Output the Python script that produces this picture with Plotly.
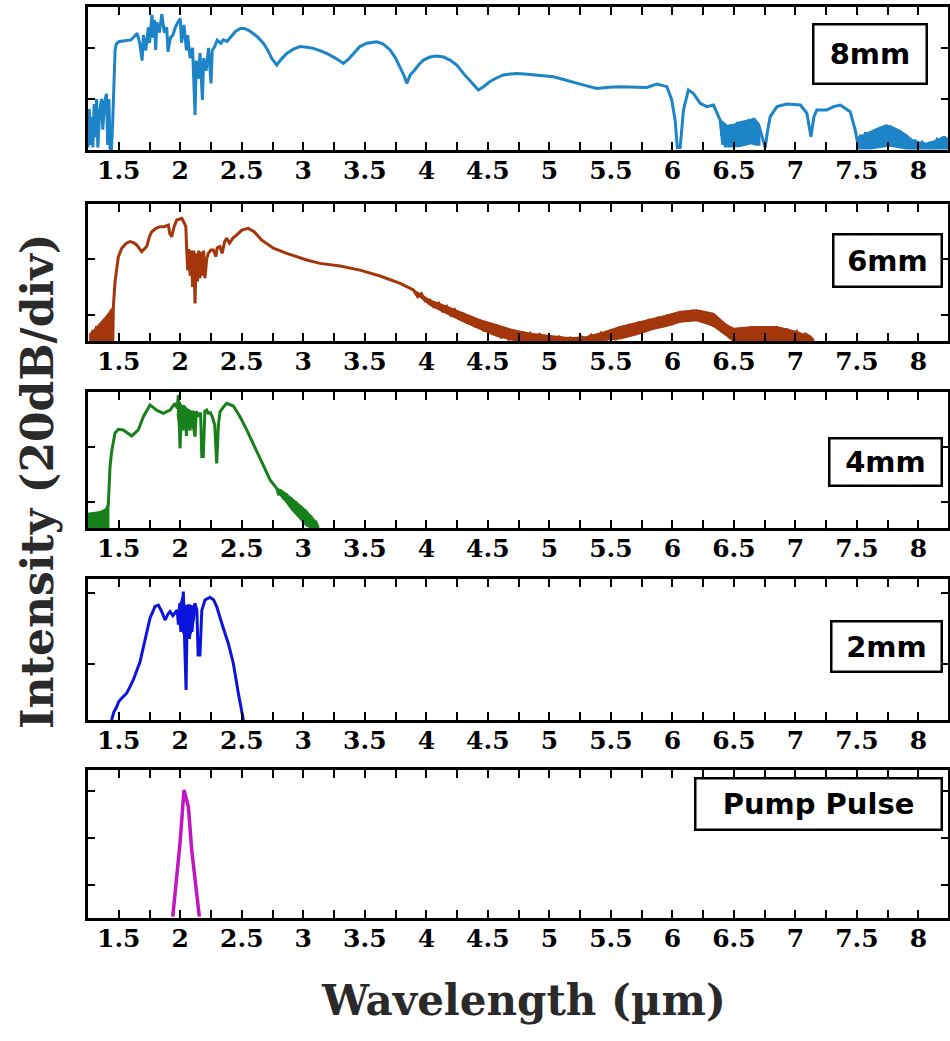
import plotly.graph_objects as go

# ---------------- data (wavelength in um, intensity in dB, 20 dB/div) ----------------
wl_8mm = [1.25, 1.26, 1.27, 1.28, 1.29, 1.30, 1.31, 1.32, 1.33, 1.345, 1.36, 1.37, 1.385, 1.40, 1.41, 1.42, 1.43, 1.44, 1.45, 1.46, 1.47, 1.48, 1.50, 1.55, 1.60, 1.65,
          1.67, 1.69, 1.70, 1.72, 1.74, 1.75, 1.77, 1.78, 1.79, 1.80, 1.81, 1.83, 1.85, 1.87, 1.89, 1.90, 1.92, 1.94, 1.96, 1.98, 2.00, 2.01, 2.03, 2.05, 2.06, 2.08, 2.10,
          2.12, 2.13, 2.15, 2.16, 2.18, 2.19, 2.21, 2.23, 2.25, 2.26, 2.28, 2.30, 2.33, 2.35, 2.38, 2.42, 2.45, 2.49, 2.52, 2.56, 2.59, 2.63, 2.675, 2.71, 2.743, 2.784,
          2.82, 2.865, 2.92, 2.974, 3.03, 3.082, 3.14, 3.19, 3.26, 3.326, 3.37, 3.407, 3.46, 3.516, 3.597, 3.65, 3.705, 3.75, 3.787, 3.82, 3.841, 3.87, 3.895, 3.94,
          3.976, 4.03, 4.085, 4.14, 4.193, 4.25, 4.301, 4.36, 4.423, 4.47, 4.518, 4.57, 4.626, 4.68, 4.735, 4.80, 4.87, 4.95, 5.033, 5.10, 5.17, 5.28, 5.386, 5.48,
          5.575, 5.68, 5.792, 5.873, 5.955, 5.995, 6.022, 6.04, 6.063, 6.09, 6.13, 6.17, 6.226, 6.28, 6.334, 6.388,
          6.40, 6.41, 6.42, 6.43, 6.44, 6.45, 6.47, 6.48, 6.50, 6.51, 6.53, 6.54, 6.56, 6.57, 6.59, 6.60, 6.62, 6.63, 6.66, 6.70, 6.73, 6.754, 6.775, 6.795, 6.85,
          6.93, 7.04, 7.093, 7.126, 7.15, 7.174, 7.255, 7.31, 7.364, 7.445, 7.486, 7.513,
          7.53, 7.55, 7.57, 7.59, 7.61, 7.63, 7.65, 7.67, 7.69, 7.71, 7.73, 7.75, 7.77, 7.79, 7.81, 7.83, 7.85, 7.87, 7.89, 7.91, 7.93, 7.95, 7.97, 8.00, 8.03,
          8.06, 8.09, 8.12, 8.15, 8.18, 8.21, 8.24]
db_8mm = [-59, -44, -58, -47, -59, -42, -55, -40, -59, -45, -40, -52, -41, -38, -58, -40, -60, -60, -50, -30, -21, -18.5, -17.6, -17.2, -16.9, -14.3,
          -18, -25, -15, -21, -12, -18, -7.1, -16, -9, -20.8, -10, -14, -6.8, -14, -12, -21.5, -16, -15, -12, -10, -8.5, -18, -11, -21, -15, -24, -20,
          -46.3, -25, -32, -22, -40.4, -24, -29, -20, -33.9, -21, -19.5, -17, -18.2, -16.9, -17.5, -15, -13.5, -12.4, -12.4, -13.2, -14.3, -15.8, -18.2, -20.8, -24.1, -26.7,
          -24.5, -22.2, -20.5, -19.5, -19.8, -20.2, -21.2, -22.2, -24, -26.1, -24.3, -22.2, -19.5, -18.2, -17.6, -18.5, -20.8, -24, -27.4, -31, -33.9, -30.5, -29.3, -26.5,
          -24.8, -23.6, -23.2, -23.6, -24.8, -26.8, -30.0, -33.2, -36.5, -35, -33.2, -31.8, -30.6, -30.2, -30.0, -30.2, -30.6, -31.0, -31.3, -32.2, -33.2, -34.6, -35.9, -35.4,
          -35.2, -35.4, -35.5, -34.2, -35.2, -40.4, -48.3, -59, -59, -44.3, -36.5, -37.8, -41.7, -43.0, -42.4, -48.3,
          -53.5, -58, -50, -59, -52, -58, -50, -58, -50, -57, -49, -57, -49, -56, -48.5, -56, -48, -55, -47.6, -50, -55, -59, -52, -46.9, -43.0,
          -42.0, -42.4, -45.6, -54.8, -47, -44.3, -44.3, -43, -42.4, -45.0, -52.2, -59,
          -54, -59, -53, -59, -52.8, -59, -52, -58, -51, -57, -50.2, -56, -50.5, -56, -51.5, -58, -52.2, -59, -54, -59, -55.5, -59, -56.1, -59, -57,
          -59, -57.4, -59, -56, -58, -54.8, -57]
# dense-noise envelopes (upper / lower) of the 8mm trace
band_8mm_wl = [6.39, 6.45, 6.50, 6.55, 6.60, 6.64, 6.68, 6.71,
               7.51, 7.55, 7.61, 7.67, 7.74, 7.79, 7.84, 7.90, 7.95, 8.00, 8.06, 8.13, 8.20, 8.24]
band_8mm_hi = [-48.3, -50.5, -50, -49, -48.5, -48, -48.5, -51,
               -55, -54, -52.8, -51.5, -50.2, -51, -52.2, -54, -56.1, -56.8, -57.4, -56.5, -54.8, -55.5]
band_8mm_lo = [-54, -58.7, -58.7, -58.5, -58, -57.5, -58, -58,
               -59.5, -59.5, -59.5, -59, -58.5, -58.5, -59, -59.5, -59.5, -59.5, -59.5, -59.5, -59.5, -59.5]

wl_6mm = [1.27, 1.29, 1.30, 1.32, 1.33, 1.35, 1.36, 1.38, 1.39, 1.41, 1.42, 1.44, 1.45, 1.456, 1.47, 1.485, 1.497, 1.524, 1.56, 1.591, 1.62, 1.646, 1.686, 1.727,
          1.75, 1.768, 1.80, 1.835, 1.87, 1.903, 1.915, 1.93, 1.95, 1.971, 2.0, 2.012, 2.03, 2.045, 2.052,
          2.06, 2.07, 2.08, 2.09, 2.10, 2.11, 2.12, 2.13, 2.14, 2.15, 2.16, 2.17, 2.18, 2.19, 2.20, 2.215, 2.228, 2.25, 2.269, 2.29, 2.30, 2.323, 2.34, 2.36, 2.377,
          2.40, 2.43, 2.458, 2.50, 2.553, 2.60, 2.66, 2.757, 2.865, 3.028, 3.136, 3.299, 3.461, 3.624, 3.787, 3.895,
          3.93, 3.96, 3.99, 4.03, 4.06, 4.10, 4.13, 4.166, 4.20, 4.23, 4.27, 4.301, 4.33, 4.37, 4.40, 4.437, 4.47, 4.50, 4.54, 4.573, 4.61, 4.64, 4.67, 4.708, 4.74,
          4.78, 4.81, 4.844, 4.88, 4.92, 4.96, 5.0, 5.04, 5.08, 5.12, 5.17, 5.22, 5.26, 5.30, 5.34, 5.38, 5.42, 5.46, 5.50, 5.54, 5.575, 5.61, 5.65, 5.69, 5.73,
          5.77, 5.81, 5.846, 5.88, 5.92, 5.96, 6.0, 6.03, 6.063, 6.10, 6.13, 6.17, 6.20, 6.23, 6.27, 6.30, 6.334, 6.37, 6.40, 6.442, 6.47, 6.496, 6.53, 6.56,
          6.60, 6.63, 6.66, 6.70, 6.74, 6.77, 6.81, 6.849, 6.89, 6.93, 6.97, 7.011, 7.05, 7.08, 7.12, 7.147]
db_6mm = [-49, -45.4, -49, -44, -49, -43, -49, -41.5, -49, -40, -49, -38, -49, -37, -28, -22, -19.2, -16.2, -14.5, -13.8, -14.2, -15.0, -17.4, -15.6,
          -12, -10.3, -9.2, -8.5, -8.5, -7.9, -11, -12.1, -8.5, -6.1, -5.5, -5.5, -7, -8.5, -16.2,
          -24, -16.5, -26, -17, -30, -17, -35.9, -18, -28, -17, -26.9, -17.5, -26, -17, -26.9, -20, -18.0, -16.8, -16.8, -19.2, -16, -15.6, -18, -14, -12.6,
          -14.4, -12.5, -11.5, -9.7, -9.1, -10.3, -13.2, -16.2, -18.0, -20.4, -21.6, -22.5, -24.0, -26.1, -28.7, -31.1,
          -33.5, -32.4, -35, -34.7, -37, -35.8, -38.5, -37.0, -40, -38.2, -41.6, -39.4, -43, -40.6, -44.3, -41.8, -45.8, -42.7, -47, -43.6, -48.3, -44.5, -49, -45.4, -49,
          -46, -49, -46.6, -49, -47, -49, -47.6, -49, -47.8, -49, -48.2, -49, -47.8, -49, -47.2, -48.9, -46.5, -48.9, -45.5, -48.9, -44.2, -48, -43.3, -47, -42.4,
          -46, -41.6, -45, -40.8, -44.2, -40, -43.5, -39.3, -42.5, -38.8, -42.2, -38.3, -42, -38.5, -42.5, -39.5, -44, -41.5, -46, -43.6, -48.5, -44.8, -49, -44.5,
          -49, -44.2, -49, -44.2, -49, -44.2, -49, -44.2, -49, -45, -49, -46, -49, -46.8, -47.8, -49.2]
band_6mm_wl = [1.26, 1.30, 1.35, 1.40, 1.45, 1.457,
               3.895, 4.03, 4.166, 4.301, 4.437, 4.573, 4.708, 4.844, 5.033, 5.17, 5.304, 5.44, 5.575, 5.71, 5.846, 5.95,
               6.063, 6.198, 6.334, 6.442, 6.496, 6.659, 6.849, 7.011, 7.12, 7.15]
band_6mm_hi = [-47, -45.4, -43, -40.5, -37.5, -37,
               -31.1, -34.7, -37.0, -39.4, -41.8, -43.6, -45.4, -46.6, -47.6, -48.2, -47.8, -46.2, -44.2, -42.8, -41.2, -40.2,
               -38.8, -38.2, -39.5, -43.6, -44.8, -44.2, -44.2, -46, -47.8, -49.3]
band_6mm_lo = [-49.3, -49.3, -49.3, -49.3, -49.3, -49.3,
               -31.6, -36.5, -39.5, -42.4, -45, -47.5, -49, -49.3, -49.3, -49.3, -49.3, -49, -48.5, -47, -45, -44,
               -42.5, -42, -44, -47.5, -49.3, -49.3, -49.3, -49.3, -49.3, -49.3]

wl_4mm = [1.26, 1.27, 1.285, 1.30, 1.315, 1.33, 1.345, 1.36, 1.375, 1.39, 1.405, 1.415, 1.429, 1.442, 1.469, 1.497, 1.537, 1.57, 1.605, 1.659, 1.70, 1.754,
          1.808, 1.862, 1.917, 1.957, 1.975, 1.984, 1.99, 1.998, 2.01, 2.02, 2.035, 2.05, 2.06, 2.08, 2.09, 2.105, 2.12, 2.13, 2.15, 2.165, 2.175, 2.187,
          2.20, 2.215, 2.23, 2.242, 2.26, 2.28, 2.296, 2.31, 2.323, 2.35, 2.377, 2.431, 2.486, 2.54, 2.594, 2.662, 2.73, 2.784,
          2.80, 2.82, 2.84, 2.86, 2.88, 2.90, 2.92, 2.94, 2.96, 2.98, 3.00, 3.02, 3.04, 3.06, 3.08, 3.10, 3.122]
db_4mm = [-44, -49, -44.2, -49, -44, -49, -43.6, -49, -43.5, -49, -42, -41.1, -27.2, -21.7, -15.0, -13.6, -13.8, -14.8, -16.0, -13.8, -9.0, -4.7,
          -6.6, -7.8, -6.6, -4.1, -6, -1.1, -12, -20.5, -6, -14, -5, -16, -7, -14, -8, -12, -16.3, -7, -9, -7.5, -23.5, -23.5,
          -7, -6.6, -8, -7.2, -9, -12, -26.0, -12, -7.2, -5.5, -4.1, -5.1, -9.0, -13.8, -18.7, -25.4, -32.0, -35.1,
          -37.5, -35.7, -39, -37, -40.5, -38.5, -42.5, -40, -44.5, -41.5, -46.5, -43, -48.5, -45, -49.5, -47, -49.5]
band_4mm_wl = [1.25, 1.30, 1.35, 1.40, 1.418,
               1.975, 1.99, 2.01, 2.03, 2.05, 2.07, 2.09, 2.11, 2.12,
               2.784, 2.82, 2.86, 2.90, 2.94, 2.98, 3.02, 3.06, 3.10, 3.122]
band_4mm_hi = [-44.2, -44, -43.6, -42.5, -41.1,
               -5, -3, -5, -5, -6, -6.5, -7, -7, -8,
               -35.1, -35.7, -37, -38.5, -40, -41.5, -43, -45, -47, -49.5]
band_4mm_lo = [-49.5, -49.5, -49.5, -49.5, -49.5,
               -8, -12, -13, -11, -12, -13, -11, -11, -9,
               -35.5, -38, -40, -42.5, -44.5, -46.5, -48.5, -49.5, -49.5, -49.5]

wl_2mm = [1.442, 1.46, 1.483, 1.50, 1.524, 1.564, 1.59, 1.618, 1.673, 1.713, 1.754, 1.795, 1.822, 1.849, 1.876, 1.90, 1.917, 1.94, 1.957, 1.975, 1.985,
          1.995, 2.005, 2.015, 2.025, 2.035, 2.047, 2.055, 2.065, 2.075, 2.085, 2.095, 2.105, 2.12, 2.135, 2.145, 2.16, 2.175, 2.201, 2.242, 2.27, 2.296,
          2.33, 2.35, 2.39, 2.431, 2.472, 2.513]
db_2mm = [-55.7, -53.5, -52.0, -50.5, -49.6, -48.2, -46.5, -44.5, -39.4, -33.3, -27.2, -23.9, -23.5, -25.3, -27.7, -26, -25.3, -26.5, -25.8, -24.9, -29,
          -23, -31, -24, -19.7, -33, -47.3, -28, -24, -33, -23.5, -31, -25, -23.0, -25, -37.5, -37.5, -25, -22.1, -21.3, -22, -23.9,
          -28, -30.0, -34.2, -39.8, -48.2, -55.7]
band_2mm_wl = [1.985, 2.0, 2.02, 2.04, 2.06, 2.08, 2.10, 2.12]
band_2mm_hi = [-24.5, -23, -21, -24, -23.5, -23.5, -24, -23]
band_2mm_lo = [-28, -30, -31, -33, -32, -32, -30, -26]

wl_pump = [1.939, 1.971, 1.998, 2.03, 2.066, 2.093, 2.133, 2.155]
db_pump = [-73.4, -57.9, -42.3, -19.7, -26.8, -45.2, -63.5, -73.4]

x_ticks = [1.5, 2, 2.5, 3, 3.5, 4, 4.5, 5, 5.5, 6, 6.5, 7, 7.5, 8]
x_ticktext = ["1.5", "2", "2.5", "3", "3.5", "4", "4.5", "5", "5.5", "6", "6.5", "7", "7.5", "8"]
labels = ["8mm", "6mm", "4mm", "2mm", "Pump Pulse"]

# ---------------- layout / styling ----------------
W, H = 950, 1041
X0, X1 = 88, 948
series = [(wl_8mm, db_8mm), (wl_6mm, db_6mm), (wl_4mm, db_4mm), (wl_2mm, db_2mm), (wl_pump, db_pump)]
bands = [(band_8mm_wl, band_8mm_hi, band_8mm_lo), (band_6mm_wl, band_6mm_hi, band_6mm_lo),
         (band_4mm_wl, band_4mm_hi, band_4mm_lo), (band_2mm_wl, band_2mm_hi, band_2mm_lo), None]
colors = ["#1d84c8", "#a3360b", "#17801a", "#0a14dc", "#c015c0"]
yranges = [[-60, -4], [-49.3, -0.4], [-49.5, 0], [-55.7, -16.2], [-74, -11.2]]
yticks = [[-40, -20], [-40, -20], [-40, -20], [-40, -20], [-60, -40, -20]]
panel_px = [(7, 150), (204, 341), (392, 528), (579, 720), (770, 918)]
boxes = [(812, 23, 928, 85), (832, 233, 943, 288), (828, 437, 943, 487), (830, 620, 943, 673), (694, 777, 943, 831)]

tickfont = dict(family="DejaVu Serif", size=25, color="black", weight="bold")


def split_segments(xs, gap=0.3):
    """Split an envelope into contiguous segments (a jump in x larger than gap starts a new one)."""
    segs, cur = [], [0]
    for j in range(1, len(xs)):
        if xs[j] - xs[j - 1] > gap:
            segs.append(cur)
            cur = []
        cur.append(j)
    segs.append(cur)
    return segs


fig = go.Figure()
layout = dict(width=W, height=H, margin=dict(l=0, r=0, t=0, b=0), showlegend=False,
              paper_bgcolor="white", plot_bgcolor="white")
annotations = []
for i, ((xs, ys), col) in enumerate(zip(series, colors)):
    k = "" if i == 0 else str(i + 1)
    if bands[i] is not None:
        bx, bh, bl = bands[i]
        for seg in split_segments(bx):
            px = [bx[j] for j in seg] + [bx[j] for j in reversed(seg)]
            py = [bh[j] for j in seg] + [bl[j] for j in reversed(seg)]
            fig.add_trace(go.Scatter(x=px, y=py, mode="lines", fill="toself", fillcolor=col,
                                     line=dict(color=col, width=1.5), xaxis="x" + k, yaxis="y" + k,
                                     hoverinfo="skip"))
    fig.add_trace(go.Scatter(x=xs, y=ys, mode="lines", xaxis="x" + k, yaxis="y" + k,
                             line=dict(color=col, width=3.5 if i == 4 else 3), hoverinfo="skip"))
    top, bot = panel_px[i]
    layout["xaxis" + k] = dict(domain=[X0 / W, X1 / W], range=[1.25, 8.24], anchor="y" + k,
                               tickvals=x_ticks, ticktext=x_ticktext, ticks="inside", ticklen=8, tickwidth=2,
                               tickcolor="black", showline=True, linecolor="black", linewidth=2.5, mirror="ticks",
                               showgrid=False, zeroline=False, tickfont=tickfont, ticklabelstandoff=-4,
                               minor=dict(dtick=0.25, tick0=0, ticks="inside", ticklen=8, tickwidth=2,
                                          tickcolor="black", showgrid=False))
    layout["yaxis" + k] = dict(domain=[1 - bot / H, 1 - top / H], range=yranges[i], anchor="x" + k,
                               tickvals=yticks[i], showticklabels=False, ticks="inside", ticklen=7, tickwidth=2,
                               tickcolor="black", showline=True, linecolor="black", linewidth=2.5, mirror="ticks",
                               showgrid=False, zeroline=False)
    bx0, by0, bx1, by1 = boxes[i]
    annotations.append(dict(x=(bx0 + bx1) / 2 / W, y=1 - (by0 + by1) / 2 / H, xref="paper", yref="paper",
                            xanchor="center", yanchor="middle", showarrow=False, text=labels[i],
                            font=dict(family="DejaVu Sans", size=29, color="black", weight="bold"),
                            bgcolor="white", bordercolor="black", borderwidth=2.5, borderpad=0,
                            width=bx1 - bx0 - 5, height=by1 - by0 - 5))

annotations.append(dict(x=523 / W, y=1 - 1000 / H, xref="paper", yref="paper", xanchor="center", yanchor="middle",
                        showarrow=False, text="Wavelength (µm)",
                        font=dict(family="DejaVu Serif", size=42, color="#2a2a2a", weight="bold")))
annotations.append(dict(x=37 / W, y=1 - 481 / H, xref="paper", yref="paper", xanchor="center", yanchor="middle",
                        showarrow=False, text="Intensity (20dB/div)", textangle=-90,
                        font=dict(family="DejaVu Serif", size=44, color="#2a2a2a", weight="bold")))
layout["annotations"] = annotations
fig.update_layout(**layout)
fig.write_html("out.html")
